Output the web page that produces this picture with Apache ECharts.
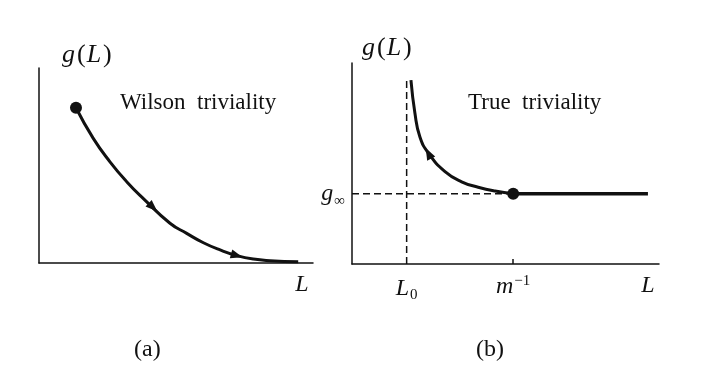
<!DOCTYPE html>
<html>
<head>
<meta charset="utf-8">
<script src="https://cdn.jsdelivr.net/npm/echarts@6.0.0/dist/echarts.min.js"></script>
<style>
  html, body { margin: 0; padding: 0; background: #fff; }
  #chart { width: 706px; height: 384px; }
</style>
</head>
<body>
<div id="chart"></div>
<script>
// panel (a): Wilson triviality, flow of g(L) down to zero
var curveA = [[1.35, 7.96], [1.98, 6.39], [2.59, 5.19], [3.2, 4.17], [3.81, 3.3], [4.78, 2.04], [5.39, 1.52], [6.0, 1.04], [6.61, 0.67], [7.22, 0.38], [7.82, 0.2], [8.43, 0.12], [9.46, 0.07]];
var startA = [[1.35, 7.96]];
// arrow heads: x, y, rotation (deg)
var arrowsA = [[4.16, 2.85, -133], [7.22, 0.38, -106]];

// panel (b): true triviality, flow from g_inf up toward L0
var curveB = [[1.92, 9.15], [2.05, 7.5], [2.21, 6.33], [2.49, 5.51], [3.03, 4.6], [3.57, 4.09], [4.11, 3.82], [4.66, 3.63], [5.25, 3.5]];
var flatB = [[5.25, 3.5], [9.64, 3.5]];
var dotB = [[5.25, 3.5]];
var arrowsB = [[2.49, 5.51, 27]];
var L0 = 1.78, mInv = 5.25, gInf = 3.5;
var guideV = [[L0, 0], [L0, 9.15]];
var guideH = [[0, gInf], [mInv, gInf]];

// tick labels
var xLabelsA = { 9.6: '{i|L}' };
var xLabelsB = {};
xLabelsB[L0] = '{i|L}{sub|0}';
xLabelsB[mInv] = '{i|m}{sup|−1}';
xLabelsB[9.64] = '{i|L}';
var yLabelsB = {};
yLabelsB[gInf] = '{i|g}{sub|∞}';

var serif = '"Liberation Serif", "Times New Roman", serif';
var ink = '#111';
var rich = {
  i: { fontFamily: serif, fontStyle: 'italic', fontSize: 24, color: ink },
  n: { fontFamily: serif, fontStyle: 'italic', fontSize: 26, color: ink },
  p: { fontFamily: serif, fontSize: 26, color: ink, padding: [0, 1, 0, 2] },
  sub: { fontFamily: serif, fontSize: 15, color: ink, verticalAlign: 'bottom', padding: [14, 0, 0, 1] },
  sup: { fontFamily: serif, fontSize: 15, color: ink, verticalAlign: 'top', padding: [0, 0, 10, 1] }
};
var gName = '{n|g}{p|(}{n|L}{p|)}';

function xAx(idx, labels, tickVals) {
  var vals = Object.keys(labels).map(Number);
  return {
    type: 'value', gridIndex: idx, min: 0, max: 10,
    splitLine: { show: false },
    axisLine: { lineStyle: { color: ink, width: 1.5 } },
    axisTick: tickVals ? { show: true, inside: true, length: 5, customValues: tickVals, lineStyle: { color: ink, width: 1.5 } } : { show: false },
    axisLabel: { customValues: vals, margin: 10, rich: rich, formatter: function (v) { return labels[v] || ''; } }
  };
}

function yAx(idx, labels, namePad, gap) {
  var vals = Object.keys(labels).map(Number);
  return {
    type: 'value', gridIndex: idx, min: 0, max: 10,
    splitLine: { show: false },
    axisLine: { show: true, lineStyle: { color: ink, width: 1.5 } },
    axisTick: { show: false },
    name: gName, nameLocation: 'end', nameGap: gap,
    nameTextStyle: { align: 'left', padding: namePad, rich: rich },
    axisLabel: { customValues: vals, margin: 7, rich: rich, formatter: function (v) { return labels[v] || ''; } }
  };
}

function arrowData(arr) {
  return arr.map(function (a) { return { value: [a[0], a[1]], symbolRotate: a[2] }; });
}

var titleFont = { fontFamily: serif, fontWeight: 'normal', fontSize: 23, color: ink };
var panelFont = { fontFamily: serif, fontWeight: 'normal', fontSize: 24, color: ink };
var solid = { color: ink, opacity: 1 };

var chart = echarts.init(document.getElementById('chart'), null, { renderer: 'canvas' });
chart.setOption({
  animation: false,
  backgroundColor: '#fff',
  title: [
    { text: 'Wilson  triviality', left: 115, top: 86, textStyle: titleFont },
    { text: 'True  triviality', left: 463, top: 86, textStyle: titleFont },
    { text: '(a)', left: 129, top: 333, textStyle: panelFont },
    { text: '(b)', left: 471, top: 333, textStyle: panelFont }
  ],
  grid: [
    { left: 39, top: 68, width: 274, height: 195 },
    { left: 352, top: 63, width: 307, height: 201 }
  ],
  xAxis: [xAx(0, xLabelsA), xAx(1, xLabelsB, [mInv])],
  yAxis: [
    yAx(0, {}, [0, 0, 0, 23], 0),
    yAx(1, yLabelsB, [0, 0, 0, 10], 2)
  ],
  series: [
    { type: 'line', xAxisIndex: 0, yAxisIndex: 0, data: curveA, smooth: 0.5, symbol: 'none', lineStyle: { color: ink, width: 3 } },
    { type: 'scatter', xAxisIndex: 0, yAxisIndex: 0, data: startA, symbolSize: 12, itemStyle: solid },
    { type: 'scatter', xAxisIndex: 0, yAxisIndex: 0, data: arrowData(arrowsA), symbol: 'triangle', symbolSize: [9, 12], itemStyle: solid },
    { type: 'line', xAxisIndex: 1, yAxisIndex: 1, data: guideV, symbol: 'none', lineStyle: { color: ink, width: 1.5, type: [7, 4] } },
    { type: 'line', xAxisIndex: 1, yAxisIndex: 1, data: guideH, symbol: 'none', lineStyle: { color: ink, width: 1.5, type: [7, 4] } },
    { type: 'line', xAxisIndex: 1, yAxisIndex: 1, data: curveB, smooth: 0.5, symbol: 'none', lineStyle: { color: ink, width: 3 } },
    { type: 'line', xAxisIndex: 1, yAxisIndex: 1, data: flatB, symbol: 'none', lineStyle: { color: ink, width: 3.5 } },
    { type: 'scatter', xAxisIndex: 1, yAxisIndex: 1, data: dotB, symbolSize: 12, itemStyle: solid },
    { type: 'scatter', xAxisIndex: 1, yAxisIndex: 1, data: arrowData(arrowsB), symbol: 'triangle', symbolSize: [9, 12], itemStyle: solid }
  ]
});
</script>
</body>
</html>
